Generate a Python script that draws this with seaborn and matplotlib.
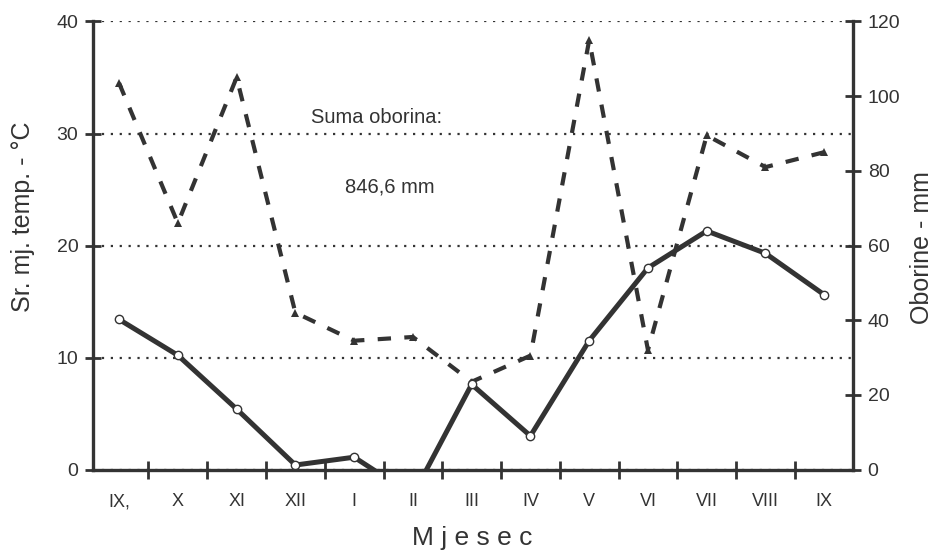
import matplotlib
matplotlib.use("Agg")
import matplotlib.pyplot as plt
from matplotlib import font_manager
import numpy as np
import pandas as pd
import seaborn as sns

# Monthly means for the hydrological year (September to September)
months = ["IX,", "X", "XI", "XII", "I", "II", "III", "IV", "V", "VI", "VII", "VIII", "IX"]
temperature = [13.4, 10.2, 5.4, 0.4, 1.1, -2.3, 7.6, 3.0, 11.5, 18.0, 21.3, 19.3, 15.6]
precipitation = [103.5, 66.0, 105.0, 42.0, 34.5, 35.5, 23.5, 30.5, 115.0, 32.0, 89.5, 81.0, 85.0]
temp_ticks = [0, 10, 20, 30, 40]
precip_ticks = [0, 20, 40, 60, 80, 100, 120]
total_label = "Suma oborina:"
total_value = "846,6 mm"

sns.set_theme(style="white")
installed = {f.name for f in font_manager.fontManager.ttflist}
narrow = "Liberation Sans Narrow" if "Liberation Sans Narrow" in installed else "Liberation Sans"
plt.rcParams["font.family"] = ["Liberation Sans", "DejaVu Sans"]

ink = "#333333"
df = pd.DataFrame({
    "pos": np.arange(len(months)),
    "mjesec": months,
    "temp": temperature,
    "oborine": precipitation,
})

fig = plt.figure(figsize=(9.37, 5.54), dpi=100)
fig.patch.set_facecolor("white")
ax = fig.add_axes([0.0993, 0.1525, 0.8111, 0.8087])
ax2 = ax.twinx()

# precipitation: dashed line with filled triangles (right axis)
sns.lineplot(data=df, x="pos", y="oborine", ax=ax2, color=ink, linewidth=3.0,
             marker="^", markersize=6, markeredgewidth=0, sort=False)
for ln in ax2.lines:
    ln.set_linestyle((0, (3.2, 3.2)))
    ln.set_dash_capstyle("butt")

# temperature: solid line with open circles (left axis)
sns.lineplot(data=df, x="pos", y="temp", ax=ax, color=ink, linewidth=3.6,
             marker="o", markersize=6, markerfacecolor="white",
             markeredgecolor=ink, markeredgewidth=1.0, sort=False)

# keep temperature on top of precipitation
ax.set_zorder(ax2.get_zorder() + 1)
ax.patch.set_visible(False)
ax2.patch.set_visible(True)
ax2.patch.set_facecolor("white")

ax.set_xlim(-0.443, 12.49)
ax.set_ylim(0, 40)
ax2.set_ylim(0, 120)

# dotted reference lines
ax.set_yticks(temp_ticks)
ax.yaxis.grid(True, linestyle=(0, (1, 3)), color=ink, linewidth=1.6)
ax.xaxis.grid(False)
ax2.grid(False)

ax2.set_yticks(precip_ticks)

ax.set_xticks(df["pos"], labels=months)
ax.set_xticks(np.arange(0.5, len(months) - 0.5, 1.0), minor=True)

for s in ["top", "right"]:
    ax.spines[s].set_visible(False)
for s in ["left", "bottom"]:
    ax.spines[s].set_color(ink)
    ax.spines[s].set_linewidth(2.4)
for s in ["top", "left", "bottom"]:
    ax2.spines[s].set_visible(False)
ax2.spines["right"].set_color(ink)
ax2.spines["right"].set_linewidth(2.4)

ax.tick_params(axis="y", direction="inout", length=11, width=2, color=ink,
               labelsize=14, pad=5, labelcolor=ink, left=True)
ax2.tick_params(axis="y", direction="inout", length=11, width=2, color=ink,
                labelsize=14, pad=5, labelcolor=ink, right=True)
ax.tick_params(axis="x", which="major", length=0, pad=17, labelsize=13, labelcolor=ink)
ax.tick_params(axis="x", which="minor", direction="inout", length=13, width=2,
               color=ink, bottom=True)
for lab in ax.get_yticklabels() + ax2.get_yticklabels() + ax.get_xticklabels():
    lab.set_family([narrow, "DejaVu Sans"])

ax.set_xlabel("")
ax.set_ylabel("")
ax2.set_ylabel("")

# axis titles
fig.text(0.0245, 0.6083, "Sr. mj. temp. - °C", rotation=90, ha="center", va="center",
         fontsize=18, color=ink)
fig.text(0.984, 0.5523, "Oborine - mm", rotation=90, ha="center", va="center",
         fontsize=18, color=ink)
fig.text(0.5037, 0.016, "M j e s e c", ha="center", va="baseline",
         fontsize=19, color=ink)

# annual total
ax.text(4.39, 30.94, total_label, ha="center", va="baseline", fontsize=14.5,
        color=ink, family=[narrow, "DejaVu Sans"])
ax.text(4.61, 24.7, total_value, ha="center", va="baseline", fontsize=14.5,
        color=ink, family=[narrow, "DejaVu Sans"])

fig.savefig("out.png", dpi=100, facecolor="white")
